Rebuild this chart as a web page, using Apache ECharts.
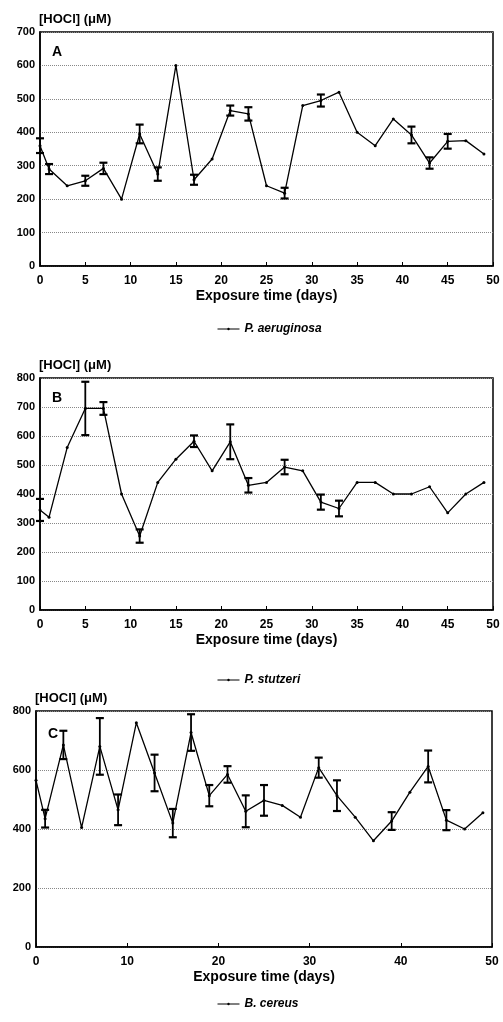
<!DOCTYPE html>
<html>
<head>
<meta charset="utf-8">
<script src="https://cdn.jsdelivr.net/npm/echarts@6/dist/echarts.min.js"></script>
<style>
  html, body { margin: 0; padding: 0; background: #fff; }
  #main { width: 503px; height: 1022px; }
</style>
</head>
<body>
<div id="main"></div>
<script>
// 天数（三个图共用）
var days = [0, 1, 3, 5, 7, 9, 11, 13, 15, 17, 19, 21, 23, 25, 27, 29, 31, 33, 35, 37, 39, 41, 43, 45, 47, 49];

// A: P. aeruginosa
var meanA = [360, 290, 240, 255, 292, 200, 395, 275, 600, 258, 320, 465, 455, 240, 218, 480, 495, 520, 400, 360, 440, 392, 308, 373, 375, 335];
var errA = [22, 15, 0, 15, 17, 0, 28, 20, 0, 15, 0, 15, 20, 0, 16, 0, 18, 0, 0, 0, 0, 25, 17, 22, 0, 0];

// B: P. stutzeri
var meanB = [345, 320, 560, 695, 695, 400, 255, 440, 520, 582, 480, 580, 430, 440, 493, 480, 372, 350, 440, 440, 400, 400, 425, 335, 400, 440];
var errB = [38, 0, 0, 92, 22, 0, 23, 0, 0, 20, 0, 60, 25, 0, 25, 0, 26, 27, 0, 0, 0, 0, 0, 0, 0, 0];

// C: B. cereus
var meanC = [565, 435, 685, 405, 680, 465, 760, 590, 420, 727, 513, 585, 460, 497, 480, 440, 608, 513, 440, 360, 427, 525, 612, 430, 400, 455];
var errC = [0, 30, 48, 0, 96, 52, 0, 62, 48, 62, 36, 28, 54, 52, 0, 0, 34, 52, 0, 0, 30, 0, 54, 34, 0, 0];

var names = ['P. aeruginosa', 'P. stutzeri', 'B. cereus'];
var panels = ['A', 'B', 'C'];
var yMax = [700, 800, 800];
var yStep = [100, 100, 200];
var xStep = [5, 5, 10];

var font = 'Liberation Sans, Arial, sans-serif';

function pairs(mean) {
  var out = [];
  for (var i = 0; i < days.length; i++) out.push([days[i], mean[i]]);
  return out;
}
function bars(mean, err) {
  var out = [];
  for (var i = 0; i < days.length; i++) {
    if (err[i] > 0) out.push([days[i], mean[i] - err[i], mean[i] + err[i]]);
  }
  return out;
}

// 误差棒
function errItem(params, api) {
  var x = api.value(0);
  var top = api.coord([x, api.value(2)]);
  var bot = api.coord([x, api.value(1)]);
  var w = 4;
  var cap = { stroke: '#000', lineWidth: 2.2 };
  return {
    type: 'group',
    children: [
      { type: 'line', shape: { x1: top[0], y1: top[1], x2: bot[0], y2: bot[1] }, style: { stroke: '#000', lineWidth: 1.8 } },
      { type: 'line', shape: { x1: top[0] - w, y1: top[1], x2: top[0] + w, y2: top[1] }, style: cap },
      { type: 'line', shape: { x1: bot[0] - w, y1: bot[1], x2: bot[0] + w, y2: bot[1] }, style: cap }
    ]
  };
}

var grids = [
  { left: 40, top: 32, width: 453, height: 234 },
  { left: 40, top: 378, width: 453, height: 232 },
  { left: 36, top: 711, width: 456, height: 236 }
];
var legendTops = [318, 669, 993];
var titleTops = [40, 386, 722];

var means = [meanA, meanB, meanC];
var errs = [errA, errB, errC];

var option = {
  backgroundColor: '#fff',
  animation: false,
  grid: [],
  xAxis: [],
  yAxis: [],
  title: [],
  legend: [],
  series: []
};

for (var k = 0; k < 3; k++) {
  var g = grids[k];
  option.grid.push({
    left: g.left, top: g.top, width: g.width, height: g.height,
    show: true, borderColor: '#000', borderWidth: 1.5, containLabel: false
  });
  option.xAxis.push({
    gridIndex: k, type: 'value', min: 0, max: 50, interval: xStep[k],
    name: 'Exposure time (days)', nameLocation: 'middle', nameGap: 23,
    nameTextStyle: { fontFamily: font, fontWeight: 'bold', fontSize: 14, color: '#000' },
    axisLine: { lineStyle: { color: '#000', width: 1.5 } },
    axisTick: { inside: true, length: 4, lineStyle: { color: '#000' } },
    axisLabel: { margin: 9, fontFamily: font, fontWeight: 'bold', fontSize: 12, color: '#000' },
    splitLine: { show: false }
  });
  option.yAxis.push({
    gridIndex: k, type: 'value', min: 0, max: yMax[k], interval: yStep[k],
    name: '[HOCl] (\u03bcM)', nameLocation: 'end', nameGap: 6,
    nameTextStyle: { fontFamily: font, fontWeight: 'bold', fontSize: 13, color: '#000', align: 'left', padding: [0, 0, 0, -1] },
    axisLine: { show: true, lineStyle: { color: '#000', width: 1.5 } },
    axisTick: { show: false },
    axisLabel: { margin: 5, fontFamily: font, fontWeight: 'bold', fontSize: 11, color: '#000' },
    splitLine: { show: true, lineStyle: { color: '#888', type: 'dotted', width: 1 } }
  });
  option.title.push({
    text: panels[k], left: g.left + 7, top: titleTops[k],
    textStyle: { fontFamily: font, fontWeight: 'bold', fontSize: 14, color: '#000' }
  });
  option.legend.push({
    data: [names[k]], left: 212, top: legendTops[k],
    itemWidth: 22, itemHeight: 3, itemGap: 4,
    lineStyle: { width: 1 },
    textStyle: { fontFamily: font, fontStyle: 'italic', fontWeight: 'bold', fontSize: 12, color: '#000' }
  });
  option.series.push({
    name: names[k], type: 'line', xAxisIndex: k, yAxisIndex: k,
    data: pairs(means[k]),
    symbol: 'circle', symbolSize: 3,
    lineStyle: { color: '#000', width: 1.3 },
    itemStyle: { color: '#000' },
    clip: false
  });
  option.series.push({
    name: names[k] + ' err', type: 'custom', xAxisIndex: k, yAxisIndex: k,
    data: bars(means[k], errs[k]),
    renderItem: errItem,
    encode: { x: 0, y: [1, 2] },
    clip: false
  });
}

var myChart = echarts.init(document.getElementById('main'));
myChart.setOption(option);
</script>
</body>
</html>
